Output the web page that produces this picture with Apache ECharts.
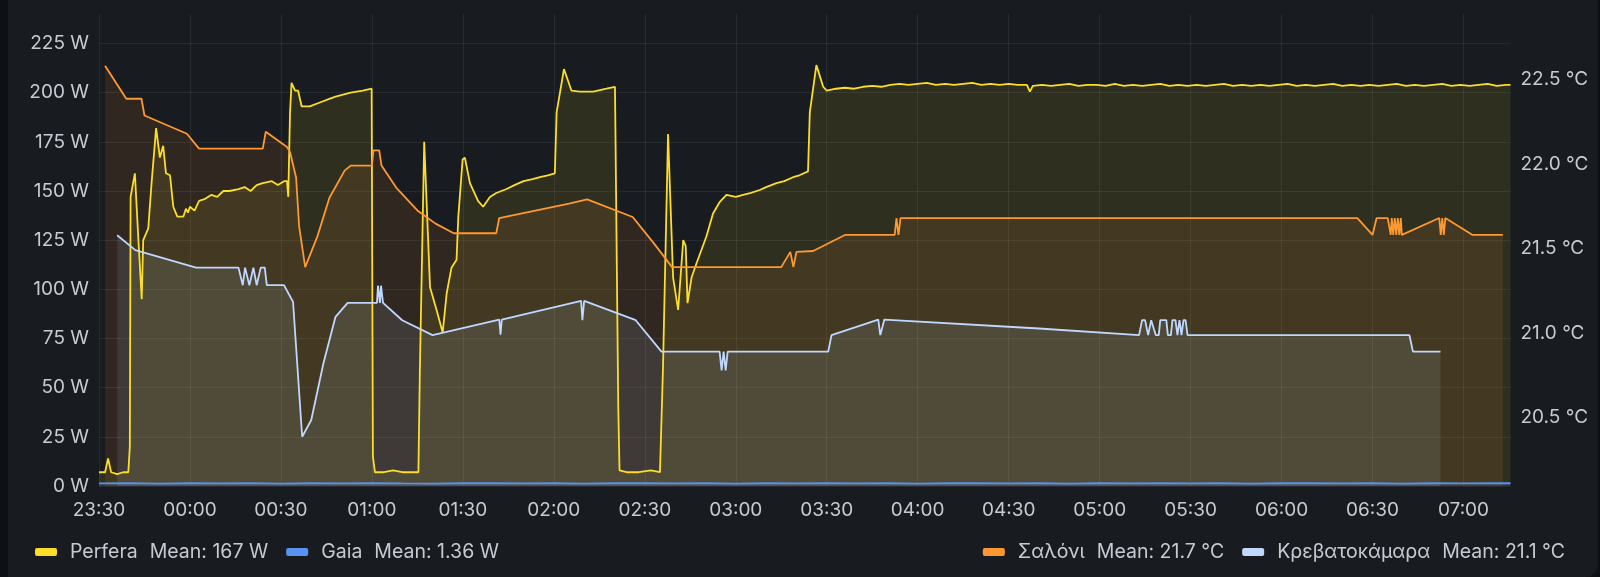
<!DOCTYPE html>
<html>
<head>
<meta charset="utf-8">
<title>Perfera / Gaia / temperatures</title>
<script src="https://cdn.jsdelivr.net/npm/echarts@6.0.0/dist/echarts.min.js"></script>
<style>
  html, body { margin: 0; padding: 0; background: #0f1013; }
  .panel { position: absolute; left: 8px; top: -12px; right: 2px; bottom: 0; background: #181b1f; border-radius: 0 0 12px 0; }
  #chart { position: absolute; left: 0; top: 0; width: 1600px; height: 577px; }
</style>
</head>
<body>
<div class="panel"></div>
<div id="chart"></div>
<script>
// window shown: 23:30 -> ~07:15
const startClock = '23:30'
const endMinutes = 465.5

const seriesNames = ['Perfera', 'Gaia', 'Σαλόνι', 'Κρεβατοκάμαρα']
const meanLabels = ['167 W', '1.36 W', '21.7 °C', '21.1 °C']
const wattTicks = [0, 25, 50, 75, 100, 125, 150, 175, 200, 225]
const tempTicks = [20.5, 21.0, 21.5, 22.0, 22.5]

// power, W
const perfera = [
  ['23:30', 7], ['23:32', 7], ['23:33', 14], ['23:34', 7], ['23:36', 6], ['23:38', 7], ['23:39:40', 7],
  ['23:40:10', 20], ['23:40:25', 147], ['23:41:50', 159], ['23:43', 125], ['23:44:05', 95], ['23:44:35', 125],
  ['23:46:15', 131], ['23:47:20', 154], ['23:48:50', 182], ['23:50:05', 167], ['23:50:40', 168], ['23:51:10', 173],
  ['23:52:05', 159], ['23:53:25', 158], ['23:54:30', 142], ['23:55:50', 137], ['23:57:50', 137], ['23:58:40', 141],
  ['23:59:20', 139], ['00:00', 142], ['00:01:30', 140], ['00:03', 145], ['00:05', 146], ['00:07', 148], ['00:09', 147],
  ['00:11', 150], ['00:13', 150], ['00:16', 151], ['00:18', 152], ['00:20', 150], ['00:22', 153], ['00:24', 154],
  ['00:27', 155], ['00:29', 153], ['00:31', 155], ['00:32', 155], ['00:32:25', 147], ['00:33', 190], ['00:33:30', 205],
  ['00:34:40', 201], ['00:35:40', 201], ['00:36:50', 193], ['00:39:30', 193], ['00:42:50', 195], ['00:46:10', 197],
  ['00:48', 198], ['00:50:30', 199], ['00:53', 200], ['00:55', 200.5], ['00:57', 201], ['00:59:55', 202],
  ['01:00:20', 15], ['01:01', 7], ['01:04', 7], ['01:07', 8], ['01:10', 7], ['01:13', 7], ['01:15:20', 7],
  ['01:15:50', 60], ['01:17:15', 175], ['01:19:10', 101], ['01:21:20', 89.5], ['01:23:20', 78], ['01:24:40', 98],
  ['01:26:15', 111], ['01:27:55', 115], ['01:28:30', 137], ['01:29:55', 166], ['01:30:40', 167], ['01:32:20', 154],
  ['01:35', 145], ['01:36:40', 142], ['01:38:55', 147], ['01:41', 149], ['01:44:25', 151], ['01:47', 153],
  ['01:50', 155], ['01:53', 156], ['01:55:25', 157], ['01:58', 158], ['02:00:20', 159], ['02:00:55', 190],
  ['02:03:20', 212], ['02:05:50', 201], ['02:08:35', 200.5], ['02:13', 200.5], ['02:17:20', 202], ['02:20:10', 203],
  ['02:21:15', 40], ['02:21:40', 8], ['02:24', 7], ['02:28', 7], ['02:32', 8], ['02:35', 7], ['02:36', 60],
  ['02:37:40', 179], ['02:39:20', 106], ['02:41', 89.5], ['02:42:40', 125], ['02:43:30', 122], ['02:44:05', 93],
  ['02:45:25', 106], ['02:47', 113], ['02:50:20', 127], ['02:52:30', 138.6], ['02:54:45', 144.5], ['02:56:55', 148],
  ['03:00', 147], ['03:02:25', 148], ['03:05', 149], ['03:07:55', 150.5], ['03:10', 152], ['03:13:25', 154],
  ['03:16', 155], ['03:18:55', 157], ['03:21', 158], ['03:23:50', 160], ['03:24:25', 190], ['03:26:35', 214],
  ['03:28:50', 203], ['03:30', 201], ['03:33', 202], ['03:36', 202.5], ['03:39', 202], ['03:42', 203],
  ['03:45', 203.5], ['03:48', 203], ['03:51', 204], ['03:54', 204.5], ['03:57', 204], ['04:00', 204.5],
  ['04:03', 205], ['04:06', 204], ['04:09', 204.5], ['04:12', 204], ['04:15', 204.5], ['04:18', 205],
  ['04:21', 204], ['04:24', 204.5], ['04:27', 204], ['04:30', 204.5], ['04:33', 204], ['04:36', 204],
  ['04:37', 200.5], ['04:38', 203.5], ['04:41', 204], ['04:44', 203.5], ['04:47', 204], ['04:50', 204.5],
  ['04:53', 203.5], ['04:56', 204], ['04:59', 204], ['05:02', 203.5], ['05:05', 204.5], ['05:08', 203.5],
  ['05:11', 204], ['05:14', 203.5], ['05:17', 204], ['05:20', 204.5], ['05:23', 203.5], ['05:26', 204],
  ['05:29', 203.5], ['05:32', 204], ['05:35', 203.5], ['05:38', 204], ['05:41', 204.5], ['05:44', 203.5],
  ['05:47', 204], ['05:50', 203.5], ['05:53', 204], ['05:56', 203.5], ['05:59', 204], ['06:02', 204.5],
  ['06:05', 203.5], ['06:08', 204], ['06:11', 203.5], ['06:14', 204], ['06:17', 204.5], ['06:20', 203.5],
  ['06:23', 204], ['06:26', 203.5], ['06:29', 204], ['06:32', 203.5], ['06:35', 204], ['06:38', 204.5],
  ['06:41', 203.5], ['06:44', 204], ['06:47', 203.5], ['06:50', 204], ['06:53', 204.5], ['06:56', 203.5],
  ['06:59', 204], ['07:02', 203.5], ['07:05', 204], ['07:08', 204.5], ['07:11', 203.5], ['07:14', 204],
  ['07:15:30', 204]
]

const gaia = [
  ['23:30', 1.3], ['23:40', 1.5], ['23:50', 1.2], ['00:00', 1.4], ['00:10', 1.3], ['00:20', 1.5], ['00:30', 1.2],
  ['00:40', 1.4], ['00:50', 1.3], ['01:00', 1.5], ['01:10', 1.3], ['01:20', 1.2], ['01:30', 1.4], ['01:40', 1.5],
  ['01:50', 1.3], ['02:00', 1.4], ['02:10', 1.2], ['02:20', 1.4], ['02:30', 1.5], ['02:40', 1.3], ['02:50', 1.4],
  ['03:00', 1.2], ['03:10', 1.4], ['03:20', 1.3], ['03:30', 1.5], ['03:40', 1.3], ['03:50', 1.4], ['04:00', 1.2],
  ['04:10', 1.4], ['04:20', 1.5], ['04:30', 1.3], ['04:40', 1.4], ['04:50', 1.2], ['05:00', 1.4], ['05:10', 1.3],
  ['05:20', 1.5], ['05:30', 1.3], ['05:40', 1.4], ['05:50', 1.2], ['06:00', 1.4], ['06:10', 1.5], ['06:20', 1.3],
  ['06:30', 1.4], ['06:40', 1.2], ['06:50', 1.4], ['07:00', 1.3], ['07:10', 1.5], ['07:15:30', 1.4]
]

// temperature, °C
const saloni = [
  ['23:32', 22.58], ['23:39', 22.385], ['23:44', 22.385], ['23:45', 22.286], ['23:59', 22.178], ['00:03', 22.09],
  ['00:24', 22.09], ['00:25', 22.19], ['00:32', 22.10], ['00:33', 22.07], ['00:35', 21.92], ['00:36', 21.63],
  ['00:38', 21.39], ['00:42', 21.57], ['00:46', 21.80], ['00:51', 21.96], ['00:53', 21.99], ['01:00', 21.99],
  ['01:00:30', 22.08], ['01:02:25', 22.08], ['01:03:10', 21.99], ['01:08', 21.86], ['01:15', 21.725],
  ['01:21', 21.647], ['01:27', 21.59], ['01:41', 21.59], ['01:42', 21.68], ['02:05', 21.765], ['02:11', 21.79],
  ['02:26', 21.686], ['02:33', 21.53], ['02:39', 21.39], ['03:15', 21.39], ['03:18', 21.48], ['03:19', 21.39],
  ['03:20', 21.48], ['03:25:30', 21.485], ['03:36', 21.58], ['03:52:25', 21.58], ['03:53', 21.68],
  ['03:53:40', 21.58], ['03:54:20', 21.68], ['06:25', 21.68], ['06:30', 21.58], ['06:31:20', 21.68],
  ['06:35', 21.68], ['06:36', 21.58], ['06:36:20', 21.68], ['06:36:50', 21.58], ['06:37:20', 21.68],
  ['06:37:50', 21.58], ['06:38:20', 21.68], ['06:38:50', 21.58], ['06:39:20', 21.68], ['06:39:40', 21.58],
  ['06:40', 21.58], ['06:52', 21.68], ['06:52:30', 21.58], ['06:53', 21.68], ['06:53:30', 21.58],
  ['06:54', 21.68], ['07:03', 21.58], ['07:13', 21.58]
]

const krevatokamara = [
  ['23:36', 21.578], ['23:42', 21.49], ['00:02', 21.387], ['00:16', 21.387], ['00:16:30', 21.387],
  ['00:17:25', 21.283], ['00:18:10', 21.387], ['00:19:35', 21.283], ['00:20:55', 21.387], ['00:22', 21.283],
  ['00:23:20', 21.387], ['00:24:40', 21.387], ['00:25:20', 21.283], ['00:31', 21.283], ['00:34', 21.184],
  ['00:37', 20.387], ['00:40', 20.486], ['00:44', 20.82], ['00:48', 21.096], ['00:52', 21.178],
  ['01:01:40', 21.178], ['01:02', 21.28], ['01:02:20', 21.28], ['01:02:40', 21.178], ['01:03', 21.28],
  ['01:03:20', 21.28], ['01:03:40', 21.178], ['01:10', 21.076], ['01:20', 20.988], ['01:42', 21.08],
  ['01:42:25', 20.99], ['01:42:50', 21.08], ['02:09', 21.19], ['02:09:25', 21.076], ['02:10', 21.19],
  ['02:27', 21.076], ['02:35:30', 20.89], ['02:54:40', 20.89], ['02:55:20', 20.78], ['02:56', 20.89],
  ['02:56:40', 20.78], ['02:57:20', 20.89], ['03:30:30', 20.89], ['03:31:35', 20.988], ['03:47', 21.08],
  ['03:47:40', 20.988], ['03:49', 21.08], ['04:40', 21.027], ['05:13', 20.988], ['05:14', 21.076],
  ['05:15', 21.076], ['05:16', 20.988], ['05:17', 21.076], ['05:18:30', 20.988], ['05:19:30', 20.988],
  ['05:20', 21.076], ['05:22', 21.076], ['05:22:30', 20.988], ['05:23:30', 20.988], ['05:24', 21.076],
  ['05:25', 21.076], ['05:25:40', 20.988], ['05:26:20', 21.076], ['05:27', 20.988], ['05:27:40', 21.076],
  ['05:28:20', 21.076], ['05:29', 20.988], ['05:30', 20.988], ['06:42:10', 20.988], ['06:43:20', 20.89],
  ['06:52:25', 20.89]
]

// clock "HH:MM[:SS]" -> minutes after startClock (crosses midnight)
function toMinutes (clock) {
  const p = clock.split(':').map(Number)
  const s = startClock.split(':').map(Number)
  let m = p[0] * 60 + p[1] + (p[2] || 0) / 60 - (s[0] * 60 + s[1])
  if (m < 0) m += 24 * 60
  return m
}

function toClock (minutes) {
  const s = startClock.split(':').map(Number)
  const total = Math.round(s[0] * 60 + s[1] + minutes) % (24 * 60)
  const h = Math.floor(total / 60)
  const mm = total % 60
  return String(h).padStart(2, '0') + ':' + String(mm).padStart(2, '0')
}

function points (list) {
  return list.map(d => [toMinutes(d[0]), d[1]])
}

const textColor = '#c8cad3'
const gridColor = 'rgba(204, 204, 220, 0.09)'
const font = 'Inter'
const colors = ['#fade2a', '#5794f2', '#ff9830', '#c0d8ff']

function line (idx, data, yAxisIndex, opacity) {
  return {
    name: seriesNames[idx],
    type: 'line',
    yAxisIndex: yAxisIndex,
    data: points(data),
    showSymbol: false,
    symbol: 'none',
    lineStyle: { width: 1.8, color: colors[idx] },
    itemStyle: { color: colors[idx] },
    areaStyle: { color: colors[idx], opacity: opacity, origin: 'start' },
    animation: false
  }
}

function legendText (name) {
  const i = seriesNames.indexOf(name)
  return '{n|' + name + '}{m|Mean: ' + meanLabels[i] + '}'
}

const legendRich = {
  n: { color: textColor, fontSize: 19.5, fontFamily: font, padding: [0, 0, 0, 8] },
  m: { color: textColor, fontSize: 19.5, fontFamily: font, padding: [0, 0, 0, 12] }
}

const option = {
  backgroundColor: 'transparent',
  animation: false,
  grid: { left: 99, right: 89.5, top: 14, bottom: 91 },
  legend: [
    {
      data: seriesNames.slice(0, 2),
      left: 30,
      top: 537,
      icon: 'roundRect',
      itemWidth: 22,
      itemHeight: 8,
      itemGap: 18,
      formatter: legendText,
      textStyle: { color: textColor, fontSize: 19.5, fontFamily: font, rich: legendRich }
    },
    {
      data: seriesNames.slice(2),
      right: 30,
      top: 537,
      icon: 'roundRect',
      itemWidth: 22,
      itemHeight: 8,
      itemGap: 18,
      formatter: legendText,
      textStyle: { color: textColor, fontSize: 19.5, fontFamily: font, rich: legendRich }
    }
  ],
  xAxis: {
    type: 'value',
    min: 0,
    max: endMinutes,
    interval: 30,
    axisLine: { show: false },
    axisTick: { show: false },
    splitLine: { show: true, showMaxLine: false, lineStyle: { color: gridColor, width: 1 } },
    axisLabel: {
      color: textColor,
      fontSize: 19,
      fontFamily: font,
      margin: 15,
      showMaxLabel: false,
      formatter: v => toClock(v)
    }
  },
  yAxis: [
    {
      type: 'value',
      min: wattTicks[0],
      max: 240,
      interval: 25,
      axisLine: { show: false },
      axisTick: { show: false },
      splitLine: { show: true, showMaxLine: false, lineStyle: { color: gridColor, width: 1 } },
      axisLabel: {
        color: textColor,
        fontSize: 19,
        fontFamily: font,
        margin: 10,
        showMaxLabel: false,
        formatter: v => v + ' W'
      }
    },
    {
      type: 'value',
      position: 'right',
      min: 20.096,
      max: 22.886,
      axisLine: { show: false },
      axisTick: { show: false },
      splitLine: { show: false },
      axisLabel: {
        color: textColor,
        fontSize: 19,
        fontFamily: font,
        margin: 10,
        customValues: tempTicks,
        formatter: v => v.toFixed(1) + ' °C'
      }
    }
  ],
  series: [
    line(0, perfera, 0, 0.1),
    line(1, gaia, 0, 0.1),
    line(2, saloni, 1, 0.1),
    line(3, krevatokamara, 1, 0.11)
  ]
}

const chart = echarts.init(document.getElementById('chart'), null, { renderer: 'canvas' })
chart.setOption(option)
window.addEventListener('resize', () => chart.resize())
</script>
</body>
</html>
